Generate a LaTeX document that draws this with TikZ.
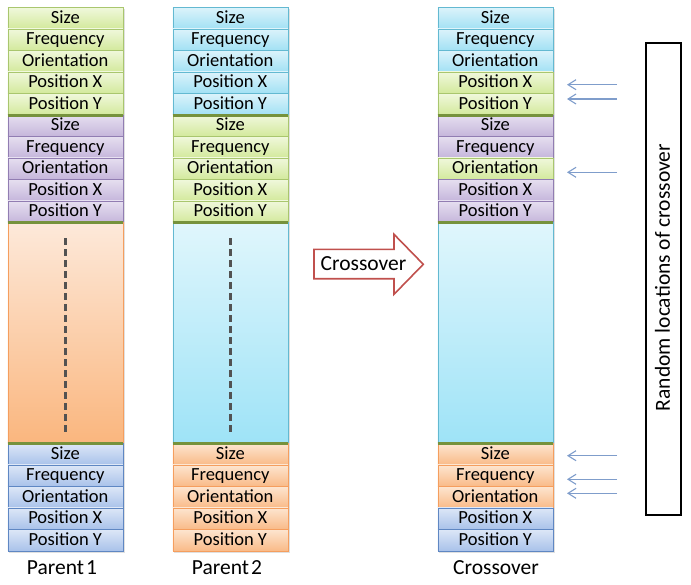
\documentclass[tikz,border=0pt]{standalone}
\usepackage{fontspec}
\setmainfont{Carlito}
\usetikzlibrary{arrows.meta}
\definecolor{gtop}{HTML}{F0F8DC}
\definecolor{gbot}{HTML}{D3E99C}
\definecolor{gbrd}{HTML}{A9C66E}
\definecolor{ctop}{HTML}{DCF3FB}
\definecolor{cbot}{HTML}{A2E1F4}
\definecolor{cbrd}{HTML}{63B9D1}
\definecolor{ptop}{HTML}{E6DFF0}
\definecolor{pbot}{HTML}{C5B6DB}
\definecolor{pbrd}{HTML}{917DB2}
\definecolor{otop}{HTML}{FDE5D0}
\definecolor{obot}{HTML}{F9BA88}
\definecolor{obrd}{HTML}{F59E5E}
\definecolor{btop}{HTML}{DDE7F7}
\definecolor{bbot}{HTML}{A9C2EA}
\definecolor{bbrd}{HTML}{5F87C3}
\definecolor{motop}{HTML}{FDE9DA}
\definecolor{mobot}{HTML}{FAB67E}
\definecolor{mctop}{HTML}{E0F6FC}
\definecolor{mcbot}{HTML}{9EE3F7}
\definecolor{sepc}{HTML}{76923C}
\definecolor{xred}{HTML}{C0504D}
\definecolor{sarrow}{HTML}{7F9DCB}
\newcommand\celllabel[1]{\ifcase#1 Size\or Frequency\or Orientation\or Position X\or Position Y\fi}
\newcommand\mkblock[4]{%
  \foreach \sty [count=\i from 0] in {#4}{%
    \node[cell,\sty] (#1\i) at (#2,{#3+21.5*\i}) {\celllabel{\i}};}}
\begin{document}
\begin{tikzpicture}[x=1pt,y=-1pt,
  cell/.style={rectangle, anchor=north west, minimum width=115pt, minimum height=21.5pt,
    inner sep=0pt, text height=13pt, text depth=3.1pt,
    font=\fontsize{18.5}{20}\selectfont, line width=0.6pt, text=black},
  gc/.style={top color=gtop, bottom color=gbot, draw=gbrd},
  cc/.style={top color=ctop, bottom color=cbot, draw=cbrd},
  pc/.style={top color=ptop, bottom color=pbot, draw=pbrd},
  oc/.style={top color=otop, bottom color=obot, draw=obrd},
  bc/.style={top color=btop, bottom color=bbot, draw=bbrd},
  midbox/.style={rectangle, anchor=north west, minimum width=115pt, minimum height=221pt,
    inner sep=0pt, line width=0.6pt},
  sepline/.style={draw=sepc, line width=3.2pt},
  dashline/.style={draw=black!68, line width=2.5pt, dash pattern=on 7pt off 4pt},
  lbl/.style={font=\fontsize{21.5}{24}\selectfont, inner sep=0pt},
  smallarr/.style={draw=sarrow, line width=1.1pt, -{Straight Barb[length=8pt,width=10pt]}},
  colshadow/.style={fill=black, opacity=0.12}
  ]
\useasboundingbox (0,0) rectangle (691,584);
% shadows
\fill[colshadow] (9,9) rectangle (124.5,553);
\fill[colshadow] (174,9) rectangle (289.5,553);
\fill[colshadow] (439,9) rectangle (554.5,553);
% Parent 1
\mkblock{pa}{7.5}{7}{gc,gc,gc,gc,gc}
\mkblock{pb}{7.5}{114.5}{pc,pc,pc,pc,pc}
\node[midbox, top color=motop, bottom color=mobot, draw=obrd] (pm) at (7.5,222) {};
\mkblock{pc}{7.5}{443}{bc,bc,bc,bc,bc}
% Parent 2
\mkblock{qa}{172.5}{7}{cc,cc,cc,cc,cc}
\mkblock{qb}{172.5}{114.5}{gc,gc,gc,gc,gc}
\node[midbox, top color=mctop, bottom color=mcbot, draw=cbrd] (qm) at (172.5,222) {};
\mkblock{qc}{172.5}{443}{oc,oc,oc,oc,oc}
% Crossover
\mkblock{ra}{437.5}{7}{cc,cc,cc,gc,gc}
\mkblock{rb}{437.5}{114.5}{pc,pc,gc,pc,pc}
\node[midbox, top color=mctop, bottom color=mcbot, draw=cbrd] (rm) at (437.5,222) {};
\mkblock{rc}{437.5}{443}{oc,oc,oc,bc,bc}
% separators
\foreach \c in {p,q,r}{
  \draw[sepline] (\c a4.south west) -- (\c a4.south east);
  \draw[sepline] (\c b4.south west) -- (\c b4.south east);
  \draw[sepline] (\c m.south west) -- (\c m.south east);
}
% dashed lines
\draw[dashline] ([yshift=-16pt]pm.north) -- ([yshift=11pt]pm.south);
\draw[dashline] ([yshift=-16pt]qm.north) -- ([yshift=11pt]qm.south);
% crossover arrow
\draw[draw=xred, line width=1.6pt, fill=white]
  (314,249.3) -- (394,249.3) -- (394,234.3) -- (423.3,264.3) -- (394,294.3) -- (394,278.7) -- (314,278.7) -- cycle;
\node[lbl] (xo) at (363.5,263.5) {Crossover};
% labels
\node[lbl] (l1) at (62,568) {Parent\kern2pt1};
\node[lbl] (l2) at (227,568) {Parent\kern2pt2};
\node[lbl] (l3) at (496,568) {Crossover};
% right box
\node[draw=black, line width=2pt, rectangle, anchor=north west, minimum width=35pt,
      minimum height=472.6pt, inner sep=0pt] (rbox) at (645,41.7) {};
\node[lbl, rotate=90] (rtext) at (662.5,277.5) {Random locations of crossover};
% small arrows
\foreach \y [count=\k] in {84.7,99,172.3,455.7,479.3,493.3}{
  \coordinate (s\k) at (617,\y);
  \coordinate (e\k) at (567,\y);
  \draw[smallarr] (s\k) -- (e\k);
}
\end{tikzpicture}
\end{document}
